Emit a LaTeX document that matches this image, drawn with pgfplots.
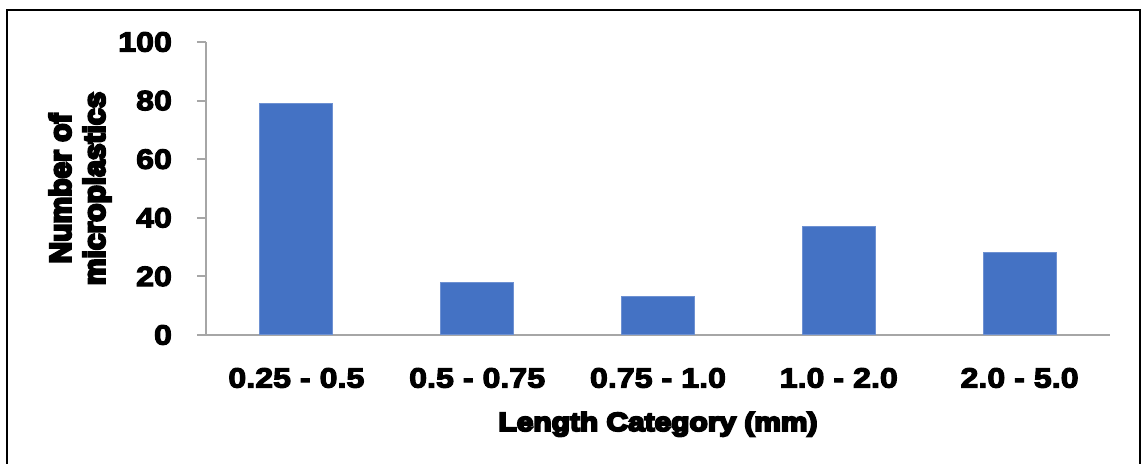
\documentclass[border=0pt]{standalone}
\usepackage{fontspec}
\setmainfont{Liberation Sans}
\newfontfamily\tickfont[FakeStretch=1.15,FakeBold=4]{Liberation Sans Bold}
\newfontfamily\heavyfont[FakeStretch=1.15,FakeBold=8]{Liberation Sans Bold}
\newfontfamily\heavyfontY[FakeBold=8]{Liberation Sans Bold}
\usepackage{pgfplots}
\pgfplotsset{compat=1.18}
\definecolor{barblue}{HTML}{4472C4}
\definecolor{baredge}{HTML}{6E91D2}
\definecolor{axgray}{HTML}{A6A6A6}
\begin{document}
\begin{tikzpicture}
\path[use as bounding box] (0pt,0pt) rectangle (570.5pt,232pt);
\draw[black,line width=1pt] (3.5pt,-2pt) -- (3.5pt,227pt) -- (570pt,227pt) -- (570pt,-2pt);
\begin{axis}[
  at={(103pt,64.5pt)}, anchor=south west,
  scale only axis, width=452pt, height=146.5pt,
  xmin=-0.5, xmax=4.5, ymin=0, ymax=100,
  axis x line*=bottom, axis y line*=left,
  axis line style={axgray, line width=1pt},
  xtick={0,1,2,3,4},
  xticklabels={0.25 - 0.5, 0.5 - 0.75, 0.75 - 1.0, 1.0 - 2.0, 2.0 - 5.0},
  xtick style={draw=none},
  ytick={0,20,40,60,80,100},
  yticklabels={0,20,40,60,80,100},
  ytick style={axgray, line width=1pt},
  tick align=outside, major tick length=4.5pt,
  yticklabel style={font=\tickfont\fontsize{14}{16}\selectfont, xshift=-9pt},
  xticklabel style={font=\tickfont\fontsize{14}{16}\selectfont, yshift=-8.5pt},
  xlabel={Length Category (mm)},
  xlabel style={at={(axis description cs:0.5,0)}, anchor=north, yshift=-35pt,
    font=\heavyfont\fontsize{13}{15}\selectfont},
  ylabel={Number of\\microplastics},
  ylabel style={at={(axis description cs:-0.1394,0.5)}, anchor=center, align=center,
    font=\heavyfontY\fontsize{15}{17}\selectfont},
  ybar, bar width=36.5pt,
  clip=false,
]
\addplot[fill=barblue, draw=baredge, line width=0.5pt] coordinates {(0,79) (1,18) (2,13) (3,37) (4,28)};
\end{axis}
\end{tikzpicture}
\end{document}
